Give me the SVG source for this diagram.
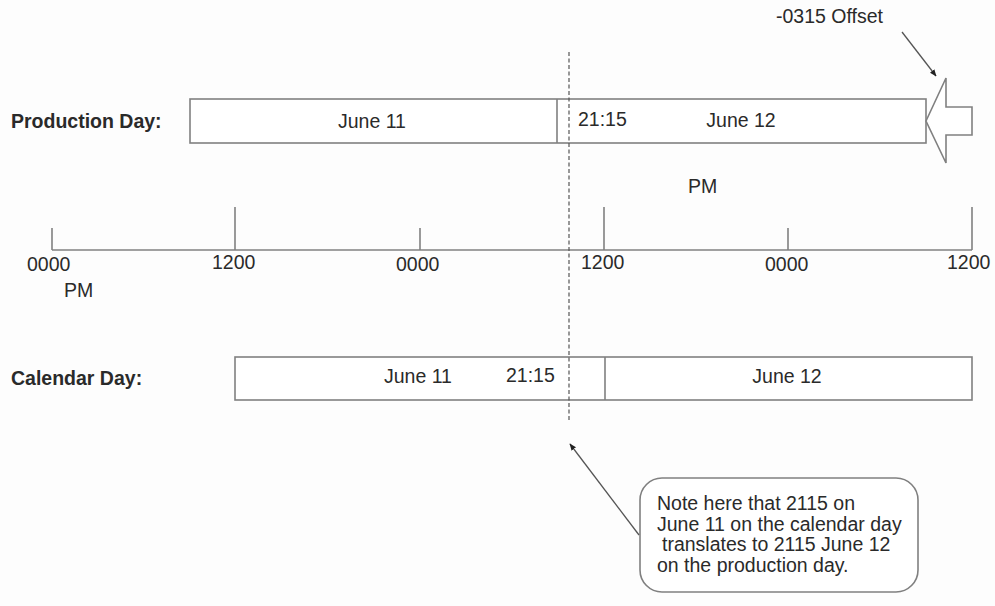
<svg xmlns="http://www.w3.org/2000/svg" width="995" height="606" viewBox="0 0 995 606">
<style>
  text { font-family: "Liberation Sans", Arial, sans-serif; font-size: 19.5px; fill: #2a2a2a; }
  .b { font-weight: bold; }
  .box { fill: #fff; stroke: #808080; stroke-width: 1.6; }
  .ln { stroke: #808080; stroke-width: 1.6; fill: none; }
  .dash { stroke: #555; stroke-width: 1.2; stroke-dasharray: 4 2.5; fill: none; }
  .arr { stroke: #555; stroke-width: 1.3; fill: none; }
</style>
<defs>
  <marker id="ah" viewBox="0 0 10 10" refX="9" refY="5" markerWidth="7" markerHeight="7" orient="auto" markerUnits="userSpaceOnUse">
    <path d="M0,1 L10,5 L0,9 z" fill="#222"/>
  </marker>
</defs>
<rect width="995" height="606" fill="#fdfdfd"/>

<g id="production-label"><text class="b" x="11" y="128">Production Day:</text></g>
<g id="production-bar">
  <rect class="box" x="190" y="99" width="736" height="44"/>
  <line class="ln" x1="557" y1="99" x2="557" y2="143"/>
  <text x="372" y="128" text-anchor="middle">June 11</text>
  <text x="578" y="126">21:15</text>
  <text x="741" y="127" text-anchor="middle">June 12</text>
</g>
<g id="offset-arrow">
  <polygon class="box" points="926,121 946,78 946,107 972,107 972,135 946,135 946,163"/>
</g>
<g id="offset-label"><text x="776" y="23">-0315 Offset</text></g>

<g id="timeline">
  <line class="ln" x1="52" y1="250" x2="972" y2="250"/>
  <line class="ln" x1="52" y1="228" x2="52" y2="250"/>
  <line class="ln" x1="235" y1="207" x2="235" y2="250"/>
  <line class="ln" x1="420" y1="228" x2="420" y2="250"/>
  <line class="ln" x1="604" y1="207" x2="604" y2="250"/>
  <line class="ln" x1="788" y1="228" x2="788" y2="250"/>
  <line class="ln" x1="972" y1="207" x2="972" y2="250"/>
  <text x="27" y="271">0000</text>
  <text x="212" y="269">1200</text>
  <text x="396" y="271">0000</text>
  <text x="581" y="269">1200</text>
  <text x="765" y="271">0000</text>
  <text x="947" y="269">1200</text>
  <text x="64" y="297">PM</text>
  <text x="688" y="193">PM</text>
</g>

<g id="calendar-label"><text class="b" x="11" y="385">Calendar Day:</text></g>
<g id="calendar-bar">
  <rect class="box" x="235" y="357" width="737" height="43"/>
  <line class="ln" x1="605" y1="357" x2="605" y2="400"/>
  <text x="418" y="383" text-anchor="middle">June 11</text>
  <text x="506" y="382">21:15</text>
  <text x="787" y="383" text-anchor="middle">June 12</text>
</g>

<g id="note">
  <rect class="box" x="640" y="478" width="278" height="114" rx="22" ry="22"/>
  <text x="657" y="510">Note here that 2115 on</text>
  <text x="657" y="531">June 11 on the calendar day</text>
  <text x="662" y="551">translates to 2115 June 12</text>
  <text x="657" y="572">on the production day.</text>
</g>

<g id="connectors">
  <line class="dash" x1="569" y1="52" x2="569" y2="422"/>
  <line class="arr" x1="902" y1="32" x2="936" y2="76" marker-end="url(#ah)"/>
  <line class="arr" x1="639" y1="535" x2="570" y2="444" marker-end="url(#ah)"/>
</g>
</svg>
